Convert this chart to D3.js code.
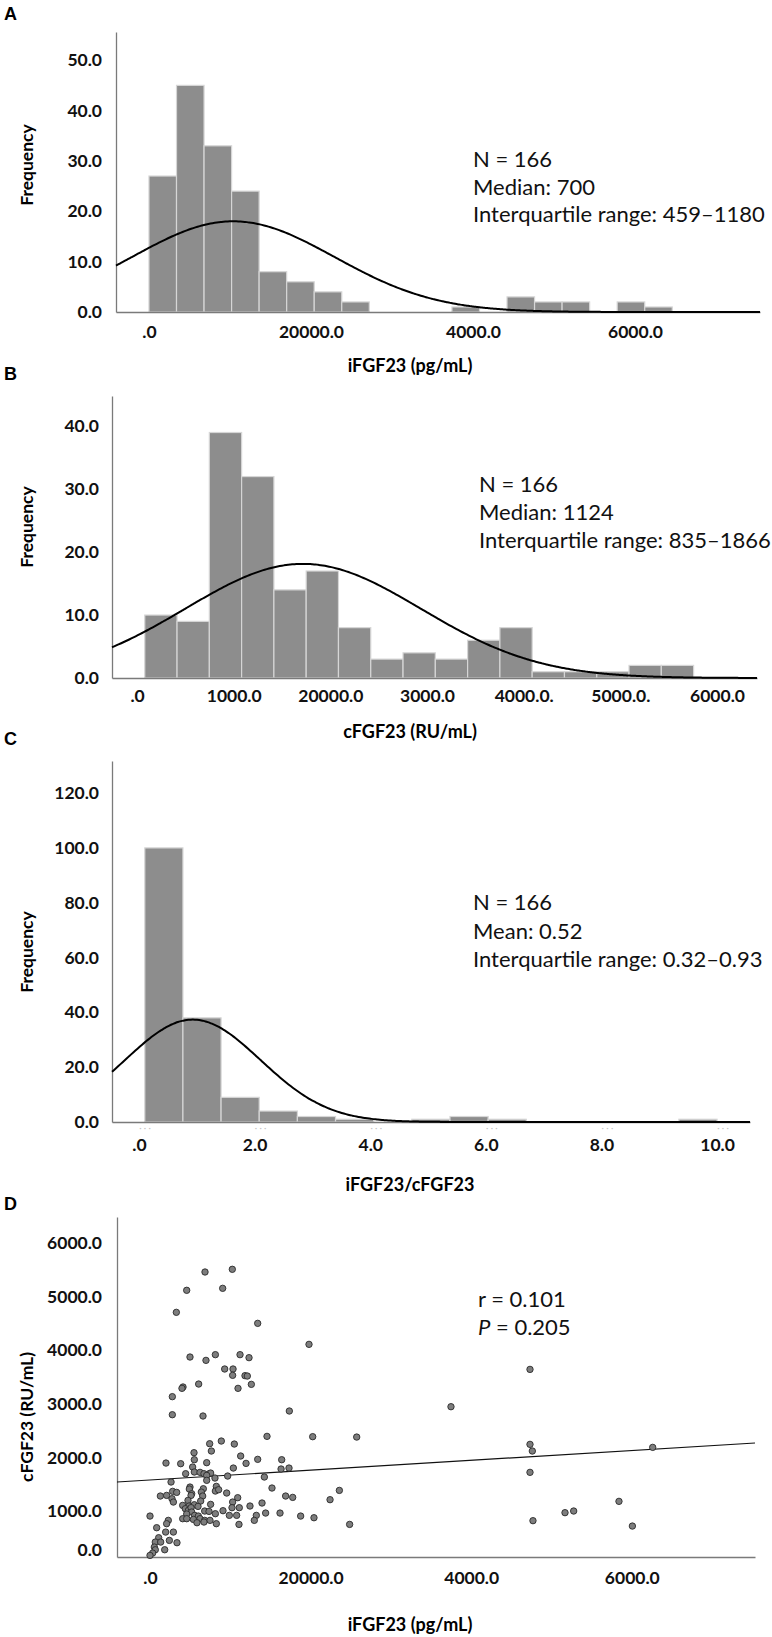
<!DOCTYPE html>
<html>
<head>
<meta charset="utf-8">
<script src="https://cdn.jsdelivr.net/npm/d3@7"></script>
<style>
  body { margin: 0; background: #fff; }
</style>
</head>
<body>
<svg id="chart" width="772" height="1637"></svg>
<script>
const fontFamily = `Lato, "Open Sans", "DejaVu Sans", sans-serif`;
const sampleSize = 166;

// A: iFGF23 histogram
const iFGF23BinStart = 0;
const iFGF23BinWidth = 340;
const iFGF23Counts = [27, 45, 33, 24, 8, 6, 4, 2, 0, 0, 0, 1, 0, 3, 2, 2, 0, 2, 1];
const iFGF23CurveMean = 1040;
const iFGF23CurveSd = 1250;
const iFGF23XTicks = [0, 2000, 4000, 6000];
const iFGF23XLabels = [".0", "20000.0", "4000.0", "6000.0"];
const iFGF23YTicks = [0, 10, 20, 30, 40, 50];
const iFGF23Notes = ["N = 166", "Median: 700", "Interquartile range: 459–1180"];

// B: cFGF23 histogram
const cFGF23BinStart = 80;
const cFGF23BinWidth = 334;
const cFGF23Counts = [10, 9, 39, 32, 14, 17, 8, 3, 4, 3, 6, 8, 1, 1, 1, 2, 2];
const cFGF23CurveMean = 1717;
const cFGF23CurveSd = 1220;
const cFGF23XTicks = [0, 1000, 2000, 3000, 4000, 5000, 6000];
const cFGF23XLabels = [".0", "1000.0", "20000.0", "3000.0", "4000.0.", "5000.0.", "6000.0"];
const cFGF23YTicks = [0, 10, 20, 30, 40];
const cFGF23Notes = ["N = 166", "Median: 1124", "Interquartile range: 835–1866"];

// C: ratio histogram
const ratioBinStart = 0.1;
const ratioBinWidth = 0.66;
const ratioCounts = [100, 38, 9, 4, 2, 1, 0, 1, 2, 1, 0, 0, 0, 0, 1];
const ratioCurveMean = 0.93;
const ratioCurveSd = 1.17;
const ratioXTicks = [0, 2, 4, 6, 8, 10];
const ratioXLabels = [".0", "2.0", "4.0", "6.0", "8.0", "10.0"];
const ratioYTicks = [0, 20, 40, 60, 80, 100, 120];
const ratioNotes = ["N = 166", "Mean: 0.52", "Interquartile range: 0.32–0.93"];

// D: scatter iFGF23 (x) vs cFGF23 (y)
const scatterIFGF23 = [
  1025, 685, 457, 905, 328, 1341, 1980, 498, 697, 814, 1121, 1233, 930, 1034, 1029, 1183, 1212,
  411, 398, 606, 1096, 1262, 278, 278, 660, 1735, 1457, 2026, 2574,
  888, 743, 1050, 548, 764, 552, 1129, 1341, 1640, 199, 382, 706, 1196, 531, 1038, 1632, 1731,
  444, 552, 623, 672, 739, 755, 706, 809, 967, 1424, 262, 706, 498, 490, 826, 664, 1519, 2358,
  282, 332, 519, 639, 814, 855, 955, 511, 129, 207, 274, 291, 656, 1092, 1689, 1777, 2242,
  473, 631, 1029, 1395, 407, 486, 552, 598, 755, 1245, 440, 478, 511, 519, 681, 735, 909, 1021, 1112,
  0, 457, 556, 602, 814, 988, 1079, 1324, 1440, 1619, 1876, 2042, 407, 457, 540, 623, 681, 747,
  585, 672, 826, 1108, 1299, 2486, 228, 207, 83, 291, 195, 108, 241, 336, 66, 133, 54, 183, 66, 33, 0,
  4732, 3748, 4732, 4761, 6260, 4732, 5840, 5168, 5276, 4769, 6007
];
const scatterCFGF23 = [
  5506, 5456, 5115, 5152, 4705, 4500, 4109, 3873, 3811, 3917, 3917, 3861, 3650, 3650, 3532, 3526, 3519,
  3315, 3290, 3370, 3290, 3364, 3135, 2799, 2775, 2868, 2396, 2390, 2383,
  2309, 2259, 2253, 2092, 2123, 1961, 2030, 1968, 1961, 1899, 1887, 1906, 1893, 1825, 1806, 1788, 1806,
  1701, 1732, 1726, 1701, 1701, 1713, 1670, 1620, 1657, 1639, 1546, 1577, 1452, 1415, 1465, 1421, 1434, 1390,
  1372, 1353, 1328, 1359, 1378, 1403, 1341, 1297, 1285, 1297, 1235, 1173, 1285, 1254, 1285, 1260, 1217,
  1204, 1192, 1173, 1155, 1111, 1099, 1123, 1092, 1130, 1099, 1049, 1018, 1068, 987, 1006, 999, 1012, 1068, 1068,
  912, 950, 925, 912, 956, 925, 925, 925, 968, 968, 912, 881, 863, 863, 850, 863, 832, 832,
  788, 801, 770, 757, 832, 757, 832, 770, 695, 614, 614, 509, 459, 416, 428, 428, 335, 285, 285, 223, 180,
  3643, 2948, 2247, 2123, 2191, 1726, 1186, 975, 1006, 826, 726
];
const regressionIntercept = 1584;
const regressionSlope = 0.0914;
const scatterXTicks = [0, 2000, 4000, 6000];
const scatterXLabels = [".0", "20000.0", "4000.0", "6000.0"];
const scatterYTicks = [0, 1000, 2000, 3000, 4000, 5000, 6000];
const scatterNotes = ["r = 0.101", "P = 0.205"];

const svg = d3.select("#chart").attr("font-family", fontFamily);

function styleAxis(g) {
  g.attr("font-family", fontFamily)
    .attr("font-size", 17.5)
    .attr("font-weight", "bold");
  g.selectAll("text").attr("fill", "#111");
  g.select(".domain").attr("stroke", "#7a7a7a").attr("stroke-width", 1.3);
}

function drawLetter(letter, y) {
  svg.append("text")
    .attr("x", 4)
    .attr("y", y)
    .attr("font-family", `"Liberation Sans", Arial, sans-serif`)
    .attr("font-size", 18)
    .attr("font-weight", "bold")
    .text(letter);
}

function drawNotes(lines, x, y0, step) {
  const t = svg.append("text")
    .attr("font-size", 22)
    .attr("fill", "#111");
  lines.forEach((line, i) => {
    const ts = t.append("tspan").attr("x", x).attr("y", y0 + i * step);
    if (line.startsWith("P ")) {
      ts.append("tspan").attr("font-style", "italic").text("P");
      ts.append("tspan").text(line.slice(1));
    } else {
      ts.text(line);
    }
  });
}

function drawTitles(xTitle, xTitleY, yTitle, yTitleY) {
  svg.append("text")
    .attr("x", 410)
    .attr("y", xTitleY)
    .attr("text-anchor", "middle")
    .attr("font-size", 18)
    .attr("font-weight", "bold")
    .text(xTitle);
  svg.append("text")
    .attr("transform", `translate(33, ${yTitleY}) rotate(-90)`)
    .attr("text-anchor", "middle")
    .attr("font-size", 17.5)
    .attr("font-weight", "bold")
    .text(yTitle);
}

function drawHistogram(p) {
  const x = d3.scaleLinear().domain(p.xDomain).range([p.left, p.right]);
  const y = d3.scaleLinear().domain(p.yDomain).range([p.bottom, p.top]);

  const bins = p.counts.map((c, i) => ({
    x0: p.binStart + i * p.binWidth,
    x1: p.binStart + (i + 1) * p.binWidth,
    count: c,
  }));

  const g = svg.append("g");

  g.append("g")
    .selectAll("rect")
    .data(bins.filter((d) => d.count > 0))
    .join("rect")
    .attr("x", (d) => x(d.x0))
    .attr("y", (d) => y(d.count))
    .attr("width", (d) => x(d.x1) - x(d.x0))
    .attr("height", (d) => y(0) - y(d.count))
    .attr("fill", "#8d8d8d")
    .attr("stroke", "#d6d6d6")
    .attr("stroke-width", 1.2);

  g.append("g")
    .attr("transform", `translate(0, ${p.bottom})`)
    .call(
      d3.axisBottom(x)
        .tickValues(p.xTicks)
        .tickFormat((d, i) => p.xLabels[i])
        .tickSize(0)
        .tickPadding(p.xPad),
    )
    .call(styleAxis);

  g.append("g")
    .attr("transform", `translate(${p.left}, 0)`)
    .call(
      d3.axisLeft(y)
        .tickValues(p.yTicks)
        .tickFormat(d3.format(".1f"))
        .tickSize(0)
        .tickPadding(p.yPad),
    )
    .call(styleAxis);

  // fitted normal curve, scaled to counts
  const scaleFactor = sampleSize * p.binWidth / (p.curveSd * Math.sqrt(2 * Math.PI));
  const curveX = d3.range(p.xDomain[0], p.xDomain[1], (p.xDomain[1] - p.xDomain[0]) / 300)
    .concat([p.xDomain[1]]);
  const curve = d3.line()
    .x((d) => x(d))
    .y((d) => y(scaleFactor * Math.exp(-0.5 * ((d - p.curveMean) / p.curveSd) ** 2)))
    .curve(d3.curveBasis);

  g.append("path")
    .datum(curveX)
    .attr("d", curve)
    .attr("fill", "none")
    .attr("stroke", "#000")
    .attr("stroke-width", 2);

  return g;
}

// ---- A ----
drawLetter("A", 20);
drawHistogram({
  left: 116, right: 760, top: 32, bottom: 312,
  xDomain: [-407, 7543], yDomain: [0, 55.6],
  binStart: iFGF23BinStart, binWidth: iFGF23BinWidth, counts: iFGF23Counts,
  curveMean: iFGF23CurveMean, curveSd: iFGF23CurveSd,
  xTicks: iFGF23XTicks, xLabels: iFGF23XLabels, yTicks: iFGF23YTicks,
  xPad: 14, yPad: 14,
});
drawNotes(iFGF23Notes, 473, 167, 27.5);
drawTitles("iFGF23 (pg/mL)", 372, "Frequency", 165);

// ---- B ----
drawLetter("B", 380);
drawHistogram({
  left: 112, right: 757, top: 396, bottom: 678,
  xDomain: [-259, 6414], yDomain: [0, 44.8],
  binStart: cFGF23BinStart, binWidth: cFGF23BinWidth, counts: cFGF23Counts,
  curveMean: cFGF23CurveMean, curveSd: cFGF23CurveSd,
  xTicks: cFGF23XTicks, xLabels: cFGF23XLabels, yTicks: cFGF23YTicks,
  xPad: 12, yPad: 13,
});
drawNotes(cFGF23Notes, 479, 492, 28);
drawTitles("cFGF23 (RU/mL)", 738, "Frequency", 527);

// ---- C ----
drawLetter("C", 745);
const histC = drawHistogram({
  left: 112, right: 750, top: 761, bottom: 1122,
  xDomain: [-0.467, 10.57], yDomain: [0, 131.7],
  binStart: ratioBinStart, binWidth: ratioBinWidth, counts: ratioCounts,
  curveMean: ratioCurveMean, curveSd: ratioCurveSd,
  xTicks: ratioXTicks, xLabels: ratioXLabels, yTicks: ratioYTicks,
  xPad: 17, yPad: 13,
});
// faint ghost marks under the C axis
{
  const xc = d3.scaleLinear().domain([-0.467, 10.57]).range([112, 750]);
  histC.append("g")
    .selectAll("text")
    .data(ratioXTicks)
    .join("text")
    .attr("x", (d) => xc(d) + 6)
    .attr("y", 1131)
    .attr("text-anchor", "middle")
    .attr("font-size", 9)
    .attr("fill", "#c4c4c4")
    .text("· · ·");
}
drawNotes(ratioNotes, 473, 910, 28.5);
drawTitles("iFGF23/cFGF23", 1191, "Frequency", 952);

// ---- D ----
drawLetter("D", 1210);
{
  const left = 117, right = 755, top = 1217, bottom = 1557;
  const x = d3.scaleLinear().domain([-411, 7534]).range([left, right]);
  const y = d3.scaleLinear().domain([150, 6480]).range([bottom, top]);
  const g = svg.append("g");

  g.append("g")
    .attr("transform", `translate(0, ${bottom})`)
    .call(
      d3.axisBottom(x)
        .tickValues(scatterXTicks)
        .tickFormat((d, i) => scatterXLabels[i])
        .tickSize(0)
        .tickPadding(15),
    )
    .call(styleAxis);

  const yAxis = g.append("g")
    .attr("transform", `translate(${left}, 0)`)
    .call(
      d3.axisLeft(y)
        .tickValues(scatterYTicks)
        .tickFormat(d3.format(".1f"))
        .tickSize(0)
        .tickPadding(15),
    )
    .call(styleAxis);
  // keep the 0.0 label sitting just above the baseline
  yAxis.selectAll(".tick")
    .filter((d) => y(d) > bottom - 7)
    .attr("transform", `translate(0, ${bottom - 7})`);

  g.append("line")
    .attr("x1", x(x.domain()[0]))
    .attr("y1", y(regressionIntercept + regressionSlope * x.domain()[0]))
    .attr("x2", x(x.domain()[1]))
    .attr("y2", y(regressionIntercept + regressionSlope * x.domain()[1]))
    .attr("stroke", "#111")
    .attr("stroke-width", 1.2);

  g.append("g")
    .selectAll("circle")
    .data(d3.zip(scatterIFGF23, scatterCFGF23))
    .join("circle")
    .attr("cx", (d) => x(d[0]))
    .attr("cy", (d) => y(d[1]))
    .attr("r", 3.2)
    .attr("fill", "#7d7d7d")
    .attr("stroke", "#2a2a2a")
    .attr("stroke-width", 0.9);

  drawNotes(scatterNotes, 478, 1307, 28);
  drawTitles("iFGF23 (pg/mL)", 1631, "cFGF23 (RU/mL)", 1417);
}
</script>
</body>
</html>
